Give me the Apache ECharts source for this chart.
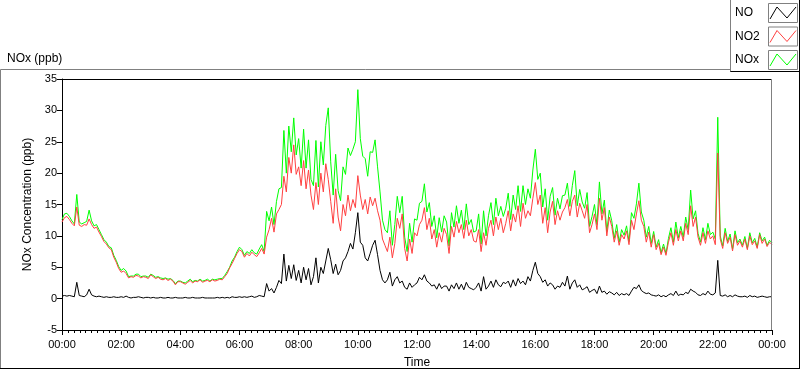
<!DOCTYPE html>
<html><head><meta charset="utf-8">
<script src="https://cdn.jsdelivr.net/npm/echarts@6/dist/echarts.min.js"></script>
<style>html,body{margin:0;padding:0;background:#fff}#c{width:800px;height:369px}</style>
</head><body><div id="c"></div>
<script>
// sampling step of the series (minutes)
const stepMinutes = 5;
const xTickLabels = ['00:00','02:00','04:00','06:00','08:00','10:00','12:00','14:00','16:00','18:00','20:00','22:00','00:00'];
const seriesNames = ['NO','NO2','NOx'];

// NO2 (ppb), one row per hour
const no2 = [
 12.2,12.9,13.1,12.6,12.0,11.6,14.6,11.7,11.5,11.8,11.7,12.7,
 11.8,11.2,11.4,10.6,9.9,9.1,8.7,8.1,7.8,6.6,5.8,4.8,
 4.2,4.4,4.0,3.3,3.5,3.4,3.7,3.6,3.3,3.5,3.4,3.2,
 3.8,3.5,3.2,3.4,3.1,3.0,3.2,2.9,3.1,2.8,2.2,2.7,
 2.7,2.5,2.3,2.6,2.9,2.5,2.8,2.7,3.0,2.6,2.8,2.9,
 2.7,3.0,2.8,2.9,3.1,3.0,3.5,4.0,4.9,5.6,6.4,7.2,
 7.8,7.5,6.6,7.2,6.8,7.4,7.0,6.7,7.3,8.0,7.1,9.8,
 11.0,12.8,10.6,13.5,14.2,15.0,19.5,17.0,22.5,20.0,24.5,19.8,
 21.0,18.0,22.0,17.5,20.5,16.5,14.2,18.5,15.0,20.0,17.0,21.5,
 19.0,15.5,12.0,17.5,13.0,10.8,15.0,13.2,16.5,14.0,15.8,14.5,
 19.6,16.5,14.2,15.8,13.5,16.2,14.8,16.0,14.0,12.5,9.5,8.5,
 7.5,9.8,6.5,8.8,12.8,11.2,13.5,8.0,6.0,9.5,7.2,10.5,
 10.0,11.8,12.5,14.5,11.0,12.8,9.5,11.0,8.2,10.5,9.0,11.2,
 10.2,7.2,11.5,9.8,12.3,10.5,11.8,9.6,12.5,10.0,11.0,9.2,
 9.0,11.0,7.5,10.5,8.5,11.2,12.5,10.0,13.0,11.0,12.8,10.5,
 12.0,14.0,10.8,13.5,12.2,14.8,11.5,15.2,12.8,14.0,13.2,16.0,
 18.5,15.0,16.5,12.0,14.5,10.5,13.8,15.5,11.8,14.0,12.5,13.8,
 14.5,15.8,13.2,15.5,16.5,13.0,15.2,14.0,12.8,15.0,10.5,11.8,
 13.5,11.0,16.0,12.5,14.5,10.0,13.0,11.5,9.0,10.8,8.5,10.2,
 9.5,10.8,8.6,12.5,11.0,13.5,15.6,12.5,11.5,9.0,10.6,8.2,
 10.2,7.8,8.8,7.0,8.2,6.9,9.0,10.5,8.5,11.0,9.2,10.8,
 9.2,12.0,10.2,14.8,11.5,13.0,9.8,8.5,10.5,8.8,10.8,9.5,
 10.0,8.6,23.2,9.5,8.0,10.5,8.8,9.8,7.6,10.2,8.5,9.2,
 8.2,9.5,7.8,10.0,8.6,9.2,8.0,10.2,8.8,9.5,8.3,9.0,
 8.6
];

// NO (ppb)
const no = [
 0.4,0.5,0.4,0.5,0.4,0.3,2.6,0.5,0.4,0.3,0.6,1.5,
 0.6,0.4,0.3,0.4,0.3,0.2,0.3,0.2,0.2,0.3,0.2,0.2,
 0.3,0.2,0.4,0.2,0.1,0.2,0.2,0.3,0.2,0.1,0.2,0.2,
 0.1,0.2,0.1,0.1,0.2,0.1,0.1,0.2,0.1,0.1,0.2,0.1,
 0.1,0.1,0.2,0.1,0.1,0.2,0.1,0.1,0.1,0.2,0.1,0.1,
 0.1,0.1,0.1,0.2,0.1,0.2,0.1,0.2,0.1,0.3,0.2,0.2,
 0.3,0.2,0.3,0.2,0.3,0.4,0.2,0.3,0.5,0.4,0.3,2.4,
 1.2,1.6,0.9,1.8,2.9,2.4,7.1,2.8,5.3,3.2,5.4,2.9,
 4.5,2.5,5.0,3.0,4.8,2.2,3.5,6.5,2.5,5.0,4.0,6.0,
 8.0,6.2,4.0,5.5,3.8,4.5,6.0,6.5,7.5,8.8,7.9,10.5,
 13.7,9.0,8.5,6.5,6.0,7.2,8.5,9.3,7.0,4.5,3.0,2.5,
 3.0,4.2,2.0,3.0,3.5,2.5,2.8,1.8,1.5,2.5,1.8,2.2,
 2.5,3.4,3.0,3.8,2.8,2.5,2.0,2.2,1.5,2.4,1.6,2.0,
 2.0,1.2,2.2,1.6,2.5,1.5,2.3,1.4,2.6,1.8,1.6,1.4,
 1.8,2.5,1.2,3.5,1.5,2.0,2.8,1.8,3.0,2.2,1.9,2.6,
 2.4,2.8,1.8,3.0,2.0,3.2,2.4,2.8,2.2,3.5,2.8,4.5,
 5.8,4.0,3.5,2.6,3.0,2.0,2.5,2.2,1.5,2.0,1.8,2.6,
 2.0,3.6,1.5,2.5,3.0,1.8,2.2,1.4,1.6,1.9,1.0,1.3,
 1.5,0.8,2.0,1.0,1.2,0.7,1.1,0.9,0.6,1.0,0.5,0.8,
 0.6,0.8,0.5,1.2,1.8,1.6,2.2,1.3,1.0,0.8,0.9,0.6,
 0.5,0.4,0.6,0.3,0.5,0.3,0.6,0.8,0.5,1.2,0.5,0.7,
 0.6,1.0,0.8,1.5,1.2,1.0,0.6,0.5,0.8,0.6,1.2,0.7,
 0.6,0.9,6.1,0.5,0.4,0.6,0.3,0.5,0.3,0.6,0.4,0.3,
 0.3,0.4,0.2,0.5,0.3,0.4,0.2,0.3,0.4,0.3,0.2,0.3,
 0.3
];

// NOx (ppb)
const nox = [
 12.6,13.5,13.6,13.1,12.4,11.9,16.6,12.2,11.9,12.1,12.3,14.1,
 12.4,11.6,11.8,11.0,10.2,9.4,9.0,8.3,8.1,6.9,6.1,5.1,
 4.5,4.8,4.4,3.5,3.6,3.6,3.9,3.9,3.5,3.6,3.6,3.4,
 3.9,3.7,3.4,3.5,3.3,3.2,3.3,3.1,3.2,2.9,2.4,2.8,
 2.8,2.6,2.5,2.8,3.1,2.7,2.9,2.8,3.1,2.8,2.9,3.1,
 2.8,3.1,3.0,3.1,3.2,3.2,3.7,4.3,5.0,6.0,6.6,7.5,
 8.2,7.8,6.9,7.5,7.2,7.8,7.3,7.1,7.9,8.6,7.5,13.9,
 12.4,14.6,11.8,15.5,17.5,17.7,26.8,20.0,27.5,23.4,28.8,22.9,
 25.5,20.8,27.0,20.8,25.3,19.0,18.0,25.2,17.8,25.0,21.3,27.6,
 30.4,21.8,16.5,23.0,17.2,15.6,21.0,19.8,24.0,22.8,23.8,25.0,
 33.3,25.5,22.7,22.3,19.5,23.4,23.3,25.3,21.0,17.0,12.5,11.0,
 10.5,14.0,8.5,11.8,16.3,13.7,16.3,9.8,7.5,12.0,9.0,12.7,
 12.5,15.2,15.5,18.3,13.8,15.3,11.5,13.2,9.7,12.9,10.6,13.2,
 12.2,8.4,13.7,11.4,14.8,12.0,14.1,11.0,15.1,11.8,12.6,10.6,
 10.8,13.5,8.7,14.0,10.0,13.2,15.3,11.8,16.0,13.2,14.7,13.1,
 14.4,16.8,12.6,16.5,14.2,18.0,13.9,18.0,15.0,17.5,16.0,20.5,
 23.8,19.0,20.0,14.6,17.5,12.5,16.3,17.7,13.3,16.0,14.3,16.4,
 16.5,18.4,14.7,18.0,20.4,14.8,17.4,15.4,14.4,16.9,11.5,13.1,
 15.0,11.8,18.6,13.5,15.7,10.7,14.1,12.4,9.6,11.8,9.0,11.0,
 10.1,11.6,9.1,13.7,12.8,15.1,18.4,13.8,12.5,9.8,11.5,8.8,
 10.7,8.2,9.4,7.3,8.7,7.2,9.6,11.3,9.0,12.2,9.7,11.5,
 9.8,13.0,11.0,17.3,12.7,14.0,10.4,9.0,11.3,9.4,12.0,10.2,
 10.6,9.5,28.9,10.0,8.4,11.2,9.1,10.3,7.9,10.8,8.9,9.5,
 8.5,9.9,8.0,10.5,8.9,9.6,8.2,10.5,9.2,9.8,8.5,9.3,
 8.9
];

const colors = {NO:'#000000', NO2:'#ff4040', NOx:'#00ff00'};
const FONT = '"Liberation Sans", Arial, sans-serif';

const times = no2.map((_, i) => i * stepMinutes);
const pairs = arr => arr.map((v, i) => [times[i], v]);

const chart = echarts.init(document.getElementById('c'), null, {renderer:'canvas'});

function legendItem(name, idx) {
  const top = 3 + idx * 23.5;
  const c = colors[name];
  return [
    {type:'text', left: 735, top: top + 4, style:{text:name, font:'12px ' + FONT, fill:'#000'}},
    {type:'rect', shape:{x:768.5, y:top + 0.5, width:29, height:19}, style:{fill:'#fff', stroke:'#808080', lineWidth:1}},
    {type:'polyline', shape:{points:[[770, top+16],[777, top+4],[787, top+15],[796, top+4]]}, style:{stroke:c, lineWidth:1, fill:null}}
  ];
}

const graphics = [
  {type:'line', shape:{x1:0.5, y1:69.5, x2:730, y2:69.5}, style:{stroke:'#808080', lineWidth:1}},
  {type:'line', shape:{x1:0.5, y1:69.5, x2:0.5, y2:368.5}, style:{stroke:'#808080', lineWidth:1}},
  {type:'line', shape:{x1:0, y1:368.5, x2:800, y2:368.5}, style:{stroke:'#000', lineWidth:1}},
  {type:'line', shape:{x1:799.5, y1:0, x2:799.5, y2:369}, style:{stroke:'#000', lineWidth:1}},
  {type:'line', shape:{x1:730.5, y1:0, x2:730.5, y2:72}, style:{stroke:'#808080', lineWidth:1}},
  {type:'line', shape:{x1:730.5, y1:71.5, x2:800, y2:71.5}, style:{stroke:'#000', lineWidth:1}},
  {type:'text', left: 7, top: 53, style:{text:'NOx (ppb)', font:'12px ' + FONT, fill:'#000'}},
  {type:'line', shape:{x1:62, y1:79.5, x2:772, y2:79.5}, style:{stroke:'#000', lineWidth:1}, z:10},
  {type:'line', shape:{x1:771.5, y1:79, x2:771.5, y2:330}, style:{stroke:'#808080', lineWidth:1}, z:10}
];
seriesNames.forEach((n, i) => graphics.push(...legendItem(n, i)));

const option = {
  animation: false,
  backgroundColor: '#fff',
  grid: {left: 62, right: 28, top: 79, bottom: 39, containLabel: false, outerBoundsMode: 'none'},
  xAxis: {
    type: 'value', min: 0, max: 1440, interval: 120,
    name: 'Time', nameLocation: 'middle', nameGap: 27,
    nameTextStyle: {fontSize: 12, color: '#000', fontFamily: FONT},
    axisLine: {show: true, onZero: false, lineStyle: {color: '#000', width: 1}},
    axisTick: {show: true, length: 5, lineStyle: {color: '#000'}},
    minorTick: {show: true, splitNumber: 10, length: 3, lineStyle: {color: '#000'}},
    splitLine: {show: false},
    axisLabel: {fontSize: 11, color: '#000', fontFamily: FONT, margin: 9,
      formatter: v => xTickLabels[Math.round(v / 120)]}
  },
  yAxis: {
    type: 'value', min: -5, max: 35, interval: 5,
    name: 'NOx Concentration (ppb)', nameLocation: 'middle', nameGap: 25,
    nameTextStyle: {fontSize: 12, color: '#000', fontFamily: FONT},
    axisLine: {show: true, lineStyle: {color: '#000', width: 1}},
    axisTick: {show: true, length: 5, lineStyle: {color: '#000'}},
    splitLine: {show: false},
    axisLabel: {fontSize: 11, color: '#000', fontFamily: FONT, margin: 5}
  },
  series: [
    {name:'NOx', type:'line', data: pairs(nox), showSymbol:false, symbol:'none', lineStyle:{color:colors.NOx, width:1}, itemStyle:{color:colors.NOx}, z:2},
    {name:'NO2', type:'line', data: pairs(no2), showSymbol:false, symbol:'none', lineStyle:{color:colors.NO2, width:1}, itemStyle:{color:colors.NO2}, z:3},
    {name:'NO', type:'line', data: pairs(no), showSymbol:false, symbol:'none', lineStyle:{color:colors.NO, width:1}, itemStyle:{color:colors.NO}, z:4}
  ],
  graphic: graphics
};
chart.setOption(option);
</script></body></html>
